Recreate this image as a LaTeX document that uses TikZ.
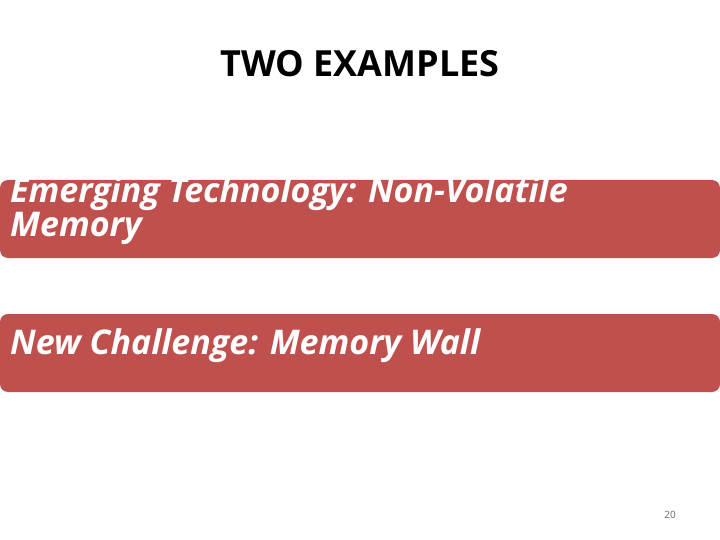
\documentclass[tikz,border=0pt]{standalone}
\usepackage{fontspec}
\setmainfont{Open Sans}
\definecolor{boxred}{HTML}{C0504D}
\begin{document}
\begin{tikzpicture}[x=1pt,y=-1pt,
  band/.style={fill=boxred,rounded corners=8pt,draw=none},
  btxt/.style={anchor=north west,text=white,font=\fontsize{34}{34}\selectfont\bfseries\itshape,align=left,inner sep=0pt}]
\useasboundingbox (0,0) rectangle (720,540);
\fill[white] (0,0) rectangle (720,540);
\node[font=\fontsize{36}{40}\selectfont\bfseries] (title) at (360,64) {TWO EXAMPLES};
\fill[band] (0,180) rectangle (720,258);
\node[btxt] (t1) at (10,176) {Emerging Technology: Non-Volatile\\Memory};
\fill[band] (0,314) rectangle (720,392);
\node[btxt] (t2) at (10,328) {New Challenge: Memory Wall};
\node[font=\fontsize{10}{12}\selectfont,text=gray!80!black] (pg) at (670,515) {20};
\end{tikzpicture}
\end{document}
